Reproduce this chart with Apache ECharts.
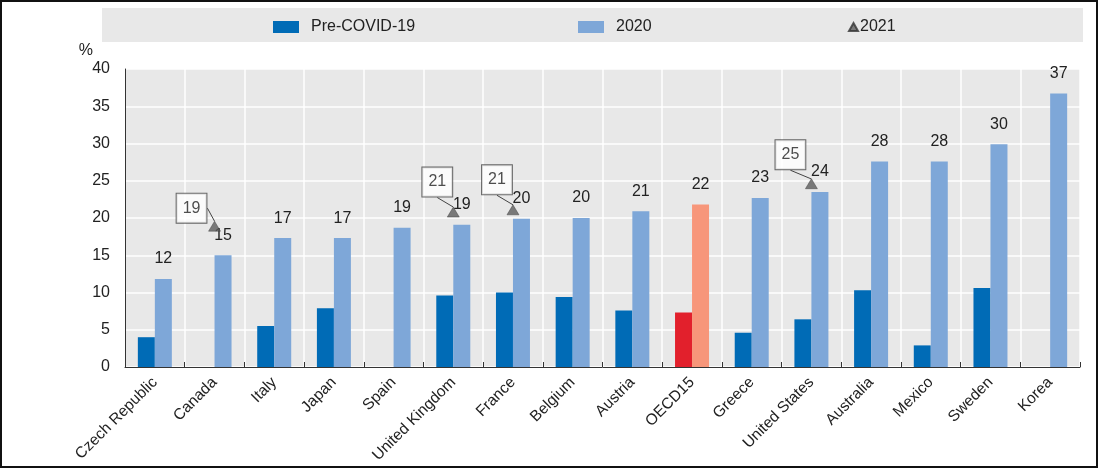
<!DOCTYPE html>
<html>
<head>
<meta charset="utf-8">
<title>Share of working from home</title>
<script src="https://cdn.jsdelivr.net/npm/echarts@6/dist/echarts.min.js"></script>
<style>
  html, body { margin: 0; padding: 0; background: #fff; }
  #chart { width: 1100px; height: 470px; }
</style>
</head>
<body>
<div id="chart"></div>
<script>
// data
var categories = ['Czech Republic', 'Canada', 'Italy', 'Japan', 'Spain', 'United Kingdom', 'France', 'Belgium',
  'Austria', 'OECD15', 'Greece', 'United States', 'Australia', 'Mexico', 'Sweden', 'Korea']
var preCovid = [4.0, null, 5.5, 7.9, null, 9.6, 10.0, 9.4, 7.6, 7.3, 4.6, 6.4, 10.3, 2.9, 10.6, null]
var year2020 = [11.8, 15.0, 17.3, 17.3, 18.7, 19.1, 19.9, 20.0, 20.9, 21.8, 22.7, 23.5, 27.6, 27.6, 29.9, 36.7]
var year2021 = [null, 18.9, null, null, null, 20.8, 21.1, null, null, null, null, 24.6, null, null, null, null]
var highlight = 'OECD15'

// where the 2021 callout boxes sit relative to the triangle
var calloutOffsets = {
  'Canada': [-23, -18],
  'United Kingdom': [-16, -30],
  'France': [-16, -30],
  'United States': [-21, -29]
}

var FONT = '"Liberation Sans Narrow", "Arial Narrow", "Liberation Sans", Arial, sans-serif'
var TXT = '#222'

var chart = echarts.init(document.getElementById('chart'))

function colored (values, special) {
  return values.map(function (v, i) {
    if (categories[i] === highlight) {
      return { value: v, itemStyle: { color: special } }
    }
    return v
  })
}

chart.setOption({
  animation: false,
  textStyle: { fontFamily: FONT, color: TXT },
  graphic: [{
    type: 'rect',
    z: -10,
    shape: { x: 102, y: 8, width: 981, height: 34 },
    style: { fill: '#e8e8e8' }
  }, {
    type: 'rect',
    z: 100,
    shape: { x: 1, y: 1, width: 1096, height: 466 },
    style: { fill: 'none', stroke: '#111', lineWidth: 2 }
  }],
  legend: [{
    data: ['Pre-COVID-19'],
    left: 268,
    top: 14,
    icon: 'rect',
    itemWidth: 26,
    itemHeight: 12,
    textStyle: { fontFamily: FONT, fontSize: 16, color: TXT, padding: [0, 0, 0, 7] }
  }, {
    data: ['2020'],
    left: 573,
    top: 14,
    icon: 'rect',
    itemWidth: 26,
    itemHeight: 12,
    textStyle: { fontFamily: FONT, fontSize: 16, color: TXT, padding: [0, 0, 0, 7] }
  }, {
    data: ['2021'],
    left: 843,
    top: 14,
    icon: 'triangle',
    itemWidth: 9,
    itemHeight: 8,
    textStyle: { fontFamily: FONT, fontSize: 16, color: TXT, padding: [0, 0, 0, -3] }
  }],
  grid: {
    left: 125,
    right: 20,
    top: 69,
    bottom: 103,
    show: true,
    backgroundColor: '#e8e8e8',
    borderWidth: 0,
    containLabel: false,
    outerBoundsMode: 'none'
  },
  xAxis: {
    type: 'category',
    data: categories,
    axisLine: { lineStyle: { color: '#333', width: 1 } },
    axisTick: { show: true, inside: true, length: 5, interval: 0, lineStyle: { color: '#333' } },
    splitLine: { show: true, interval: 0, lineStyle: { color: '#fff', width: 1.5 } },
    axisLabel: {
      interval: 0,
      rotate: 45,
      margin: 13,
      fontFamily: FONT,
      fontSize: 15.5,
      color: TXT
    }
  },
  yAxis: {
    type: 'value',
    min: 0,
    max: 40,
    interval: 5,
    name: '%',
    nameGap: 10,
    nameTextStyle: { fontFamily: FONT, fontSize: 16, color: TXT, align: 'right', padding: [0, 32, 0, 0] },
    axisLine: { show: true, lineStyle: { color: '#333', width: 1 } },
    axisTick: { show: false },
    splitLine: { show: true, lineStyle: { color: '#fff', width: 1.5 } },
    axisLabel: { margin: 15, fontFamily: FONT, fontSize: 16, color: TXT }
  },
  series: [{
    name: 'Pre-COVID-19',
    type: 'bar',
    barWidth: 17,
    barGap: '0%',
    itemStyle: { color: '#006BB6' },
    data: colored(preCovid, '#E2202C')
  }, {
    name: '2020',
    type: 'bar',
    barWidth: 17,
    barGap: '0%',
    itemStyle: { color: '#7EA7D8' },
    label: {
      show: true,
      position: 'top',
      distance: 12,
      fontFamily: FONT,
      fontSize: 16,
      color: TXT,
      formatter: function (p) { return Math.round(p.value) }
    },
    data: colored(year2020, '#F7967A')
  }, {
    name: '2021',
    type: 'scatter',
    symbol: 'triangle',
    symbolSize: [12, 10],
    z: 5,
    itemStyle: { color: '#5c5c5c', borderColor: '#333', borderWidth: 0.5 },
    label: {
      show: true,
      position: 'inside',
      fontFamily: FONT,
      fontSize: 16,
      color: TXT,
      backgroundColor: '#fff',
      borderColor: '#444',
      borderWidth: 1,
      padding: [7, 6, 6, 6],
      formatter: function (p) { return Math.round(p.value) }
    },
    labelLine: { show: true, lineStyle: { color: '#444', width: 1 } },
    labelLayout: function (p) {
      var off = calloutOffsets[categories[p.dataIndex]] || [0, -25]
      return { dx: off[0], dy: off[1] }
    },
    data: year2021
  }]
})
</script>
</body>
</html>
